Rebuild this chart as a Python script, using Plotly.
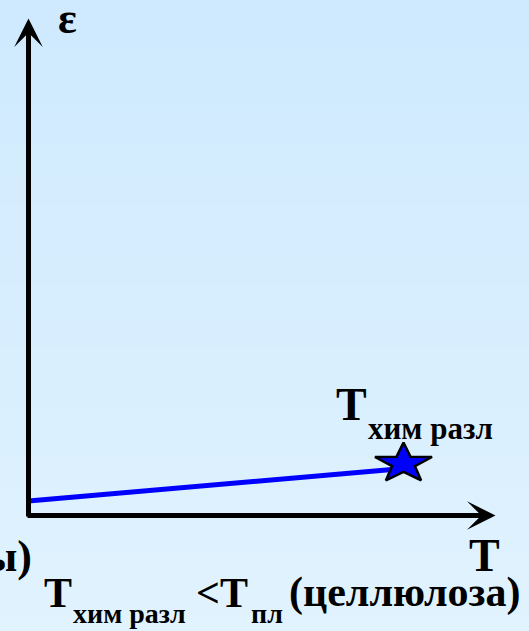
import plotly.graph_objects as go
import numpy as np

# ---- data (arbitrary units: T along x, ε along y) ----
T_line = [0, 375]          # temperature at start / at chemical decomposition
eps_line = [14.5, 47]      # deformation
T_star = [375]             # T хим разл point
eps_star = [52]

axis_T_max = 467           # arrow tip of T axis
axis_eps_max = 497         # arrow tip of ε axis

W, H = 529, 631
ORIGIN_PX = (28.5, 515.5)

def px_x(x):  # pixel -> data
    return x - ORIGIN_PX[0]
def px_y(y):
    return ORIGIN_PX[1] - y

fig = go.Figure()

# background gradient (vertical)
top = np.array([207, 234, 255]); bot = np.array([225, 243, 254])
n = 40
shapes = []
for i in range(n):
    c = top + (bot - top) * i / (n - 1)
    shapes.append(dict(type="rect", xref="paper", yref="paper",
                       x0=0, x1=1, y0=1 - (i + 1) / n - 0.001, y1=1 - i / n,
                       fillcolor="rgb(%d,%d,%d)" % tuple(c.astype(int)),
                       line=dict(width=0), layer="below"))

fig.add_trace(go.Scatter(x=T_line, y=eps_line, mode="lines",
                         line=dict(color="#0000ff", width=5), hoverinfo="skip"))

# star (slightly squashed five-pointed star around the data point)
rx, ry, inner = 30, 21, 0.40
ang = np.pi / 2 + np.arange(10) * np.pi / 5
rad = np.where(np.arange(10) % 2 == 0, 1.0, inner)
sx = T_star[0] + rx * rad * np.cos(ang)
sy = eps_star[0] + ry * rad * np.sin(ang)
fig.add_trace(go.Scatter(x=list(sx) + [sx[0]], y=list(sy) + [sy[0]], mode="lines",
                         fill="toself", fillcolor="#0000ff",
                         line=dict(color="black", width=2.5), hoverinfo="skip"))

ann = []
# axes as arrows
ann.append(dict(x=axis_T_max, y=0, ax=-2.5, ay=0, xref="x", yref="y", axref="x", ayref="y",
                text="", showarrow=True, arrowhead=3, arrowwidth=5, arrowsize=0.95, arrowcolor="black"))
ann.append(dict(x=0, y=axis_eps_max, ax=0, ay=-2.5, xref="x", yref="y", axref="x", ayref="y",
                text="", showarrow=True, arrowhead=3, arrowwidth=5, arrowsize=0.95, arrowcolor="black"))

FONT = "Liberation Serif, Times New Roman, serif"

def label(text, x_px, base_px, size, anchor="left"):
    ann.append(dict(x=x_px / W, y=1 - (base_px + 0.216 * size + 1) / H, xref="paper", yref="paper",
                    text=text, showarrow=False, xanchor=anchor, yanchor="bottom",
                    font=dict(family=FONT, size=size, color="black", weight="bold")))

label("ε", 67.5, 34, 44, anchor="center")
label("T", 334, 421, 46)
label("хим разл", 366, 440, 31)
label("T", 467, 572, 46)
label("ы)", 34, 572, 44, anchor="right")
label("T", 42, 608, 42)
label("хим разл", 71, 624, 28)
label("<T", 194, 608, 42)
label("пл", 249, 624, 28)
label("(целлюлоза)", 287, 608, 42)

fig.update_layout(
    width=W, height=H, margin=dict(l=0, r=0, t=0, b=0),
    paper_bgcolor="#d8eeff", plot_bgcolor="rgba(0,0,0,0)",
    showlegend=False, shapes=shapes, annotations=ann,
    xaxis=dict(range=[px_x(0), px_x(W)], visible=False, fixedrange=True),
    yaxis=dict(range=[px_y(H), px_y(0)], visible=False, fixedrange=True),
)
fig.write_html("out.html", post_script="document.body.style.margin='0';",
               config={"displayModeBar": False})
